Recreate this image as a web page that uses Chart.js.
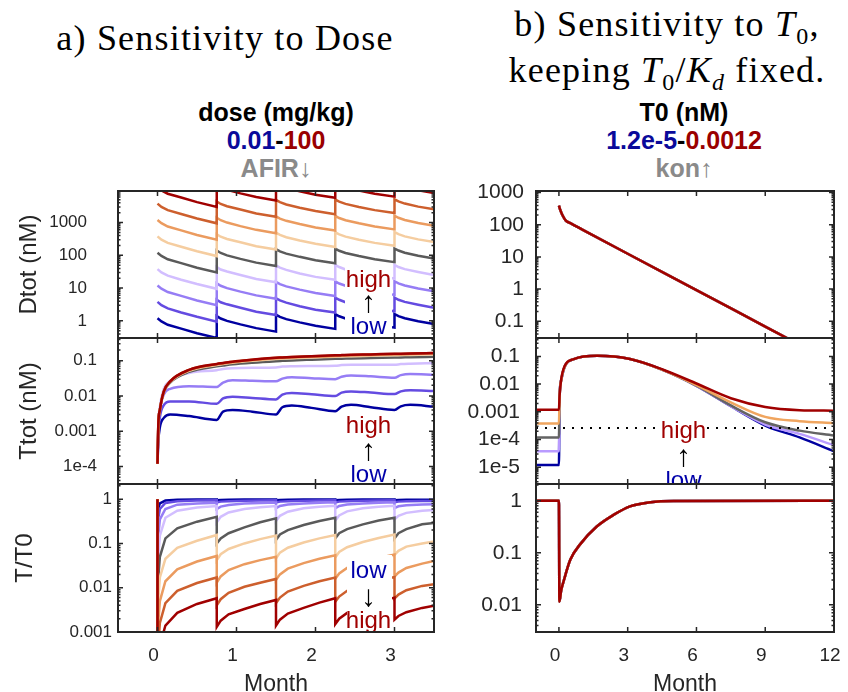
<!DOCTYPE html>
<html>
<head>
<meta charset="utf-8">
<script src="https://cdn.jsdelivr.net/npm/chart.js@4.4.1/dist/chart.umd.min.js"></script>
<style>
  html, body { margin: 0; padding: 0; background: #fff; overflow: hidden; }
  #wrap { position: relative; width: 848px; height: 692px; overflow: hidden; }
  canvas { position: absolute; }
  .t { position: absolute; transform: translate(-50%, -50%); line-height: 1; white-space: nowrap; }
  .serif { font-family: "Liberation Serif", "Times New Roman", serif; font-size: 36px; letter-spacing: 1.2px; color: #000; }
  .hd { font-family: "Liberation Sans", Arial, sans-serif; font-weight: bold; font-size: 25px; }
  .thin { font-weight: normal; }
</style>
</head>
<body>
<div id="wrap">
  <div class="t serif" style="left:225px;top:38px">a) Sensitivity to Dose</div>
  <div class="t serif" style="left:667px;top:27px">b) Sensitivity to <i>T</i><sub style="font-size:24px;font-style:normal">0</sub>,</div>
  <div class="t serif" style="left:667px;top:73px">keeping <i>T</i><sub style="font-size:24px">0</sub>/<i>K<sub style="font-size:24px">d</sub></i> fixed.</div>

  <div class="t hd" style="left:276px;top:112px;color:#000">dose (mg/kg)</div>
  <div class="t hd" style="left:276px;top:140px"><span style="color:#0a0a9a">0.01</span><span style="color:#000">-</span><span style="color:#9a0000">100</span></div>
  <div class="t hd" style="left:276px;top:168px;color:#8a8a8a">AFIR<span class="thin">↓</span></div>

  <div class="t hd" style="left:684px;top:112px;color:#000">T0 (nM)</div>
  <div class="t hd" style="left:684px;top:140px"><span style="color:#0a0a9a">1.2e-5</span><span style="color:#000">-</span><span style="color:#9a0000">0.0012</span></div>
  <div class="t hd" style="left:684px;top:168px;color:#8a8a8a">kon<span class="thin">↑</span></div>
</div>

<script>
// ---- colours, low -> high
const doseColors = ['rgb(0,0,160)', 'rgb(100,75,225)', 'rgb(150,125,245)', 'rgb(210,190,255)', 'rgb(90,90,90)',
                    'rgb(245,205,160)', 'rgb(235,155,95)', 'rgb(205,95,45)', 'rgb(160,0,0)'];
const t0Colors = ['rgb(0,0,160)', 'rgb(185,155,255)', 'rgb(100,100,100)', 'rgb(240,165,95)', 'rgb(160,0,0)'];

// ---- axis ticks
const monthTicksLeft = [0, 1, 2, 3];
const monthTicksRight = [0, 3, 6, 9, 12];
const dtotTicksL = [1, 10, 100, 1000];
const dtotLabelsL = ['1', '10', '100', '1000'];
const ttotTicksL = [1e-4, 0.001, 0.01, 0.1];
const ttotLabelsL = ['1e-4', '0.001', '0.01', '0.1'];
const relTicksL = [0.001, 0.01, 0.1, 1];
const relLabelsL = ['0.001', '0.01', '0.1', '1'];
const dtotTicksR = [0.1, 1, 10, 100, 1000];
const dtotLabelsR = ['0.1', '1', '10', '100', '1000'];
const ttotTicksR = [1e-5, 1e-4, 0.001, 0.01, 0.1];
const ttotLabelsR = ['1e-5', '1e-4', '0.001', '0.01', '0.1'];
const relTicksR = [0.01, 0.1, 1];
const relLabelsR = ['0.01', '0.1', '1'];

// ---- a) dose sensitivity, Dtot (nM), 9 doses 0.01..100 mg/kg
const tDose = [0, 0.05, 0.13, 0.3, 0.5, 0.75, 0.75, 0.8, 0.88, 1.05, 1.25, 1.5, 1.5, 1.55, 1.63, 1.8, 2.0, 2.25,
               2.25, 2.3, 2.38, 2.55, 2.75, 3.0, 3.0, 3.05, 3.13, 3.3, 3.5];
const dtot0 = [1.2, 0.96, 0.76, 0.58, 0.42, 0.30, 1.4, 1.18, 1.0, 0.78, 0.6, 0.47, 1.55, 1.32, 1.13, 0.9, 0.71, 0.57,
               1.6, 1.38, 1.18, 0.95, 0.76, 0.62, 1.62, 1.4, 1.2, 0.97, 0.8];
const dtot1 = [3.8, 3.0, 2.4, 1.8, 1.33, 0.95, 4.4, 3.7, 3.2, 2.5, 1.9, 1.5, 4.9, 4.2, 3.6, 2.8, 2.2, 1.8,
               5.1, 4.4, 3.7, 3.0, 2.4, 1.96, 5.1, 4.4, 3.8, 3.1, 2.5];
const dtot2 = [12, 9.6, 7.6, 5.8, 4.2, 3.0, 14, 11.8, 10, 7.8, 6.0, 4.7, 15.5, 13.2, 11.3, 9.0, 7.1, 5.7,
               16, 13.8, 11.8, 9.5, 7.6, 6.2, 16.2, 14, 12, 9.7, 8.0];
const dtot3 = [38, 30, 24, 18, 13.3, 9.5, 44, 37, 32, 25, 19, 15, 49, 42, 36, 28, 22, 18,
               51, 44, 37, 30, 24, 19.6, 51, 44, 38, 31, 25];
const dtot4 = [120, 96, 76, 58, 42, 30, 140, 118, 100, 78, 60, 47, 155, 132, 113, 90, 71, 57,
               160, 138, 118, 95, 76, 62, 162, 140, 120, 97, 80];
const dtot5 = [380, 300, 240, 183, 133, 95, 440, 370, 316, 250, 190, 150, 490, 420, 357, 285, 225, 180,
               505, 436, 373, 300, 240, 196, 512, 442, 380, 307, 253];
const dtot6 = [1200, 960, 760, 580, 420, 300, 1400, 1180, 1000, 780, 600, 470, 1550, 1320, 1130, 900, 710, 570,
               1600, 1380, 1180, 950, 760, 620, 1620, 1400, 1200, 970, 800];
const dtot7 = [3800, 3000, 2400, 1830, 1330, 950, 4400, 3700, 3160, 2500, 1900, 1500, 4900, 4200, 3570, 2850, 2250, 1800,
               5050, 4360, 3730, 3000, 2400, 1960, 5120, 4420, 3800, 3070, 2530];
const dtot8 = [12000, 9600, 7600, 5800, 4200, 3000, 14000, 11800, 10000, 7800, 6000, 4700, 15500, 13200, 11300, 9000, 7100, 5700,
               16000, 13800, 11800, 9500, 7600, 6200, 16200, 14000, 12000, 9700, 8000];

// ---- a) Ttot (nM)
const tTot = [0, 0.01, 0.03, 0.08, 0.16, 0.4, 0.75, 0.83, 0.95, 1.2, 1.5, 1.58, 1.7, 1.95, 2.25,
              2.33, 2.45, 2.7, 3.0, 3.08, 3.2, 3.5];
const ttot0 = [1.2e-4, 5e-4, 1.3e-3, 2.4e-3, 3.0e-3, 2.7e-3, 2.1e-3, 3.6e-3, 4.0e-3, 3.6e-3, 3.0e-3, 4.8e-3, 5.4e-3, 4.6e-3, 3.7e-3,
               5.0e-3, 5.6e-3, 4.8e-3, 4.0e-3, 5.1e-3, 5.6e-3, 5.0e-3];
const ttot1 = [1.2e-4, 8e-4, 2.5e-3, 5.5e-3, 7.0e-3, 7.0e-3, 6.0e-3, 8.5e-3, 9.5e-3, 8.8e-3, 8.0e-3, 0.011, 0.0122, 0.0112, 0.0100,
               0.0125, 0.0135, 0.0125, 0.0113, 0.0135, 0.0145, 0.0138];
const ttot2 = [1.2e-4, 1.2e-3, 4e-3, 0.011, 0.016, 0.019, 0.018, 0.024, 0.028, 0.027, 0.026, 0.031, 0.034, 0.032, 0.030,
               0.035, 0.038, 0.036, 0.033, 0.039, 0.042, 0.040];
const ttot3 = [1.2e-4, 1.5e-3, 5e-3, 0.016, 0.027, 0.045, 0.054, 0.058, 0.061, 0.063, 0.064, 0.068, 0.070, 0.071, 0.072,
               0.075, 0.077, 0.077, 0.077, 0.080, 0.082, 0.085];
const ttot4 = [1.2e-4, 1.5e-3, 4e-3, 0.013, 0.024, 0.048, 0.069, 0.073, 0.079, 0.088, 0.097, 0.099, 0.102, 0.107, 0.113,
               0.114, 0.116, 0.119, 0.123, 0.124, 0.125, 0.13];
const ttot5 = [1.2e-4, 1.5e-3, 4e-3, 0.0133, 0.025, 0.052, 0.076, 0.080, 0.087, 0.099, 0.112, 0.114, 0.117, 0.123, 0.130,
               0.132, 0.134, 0.138, 0.143, 0.144, 0.146, 0.151];
const ttot6 = [1.2e-4, 1.5e-3, 4e-3, 0.0135, 0.026, 0.054, 0.079, 0.084, 0.091, 0.104, 0.118, 0.120, 0.124, 0.130, 0.137,
               0.139, 0.142, 0.146, 0.152, 0.153, 0.155, 0.161];
const ttot7 = [1.2e-4, 1.5e-3, 4e-3, 0.0135, 0.026, 0.055, 0.080, 0.085, 0.093, 0.106, 0.121, 0.123, 0.127, 0.133, 0.140,
               0.142, 0.145, 0.150, 0.155, 0.156, 0.158, 0.164];
const ttot8 = [1.2e-4, 1.5e-3, 4e-3, 0.0135, 0.026, 0.055, 0.081, 0.086, 0.094, 0.107, 0.122, 0.124, 0.128, 0.134, 0.142,
               0.144, 0.147, 0.151, 0.157, 0.158, 0.160, 0.166];

// ---- a) T/T0
const tRel = [0, 0, 0.03, 0.1, 0.25, 0.5, 0.75, 0.75, 0.8, 0.9, 1.1, 1.3, 1.5, 1.5, 1.55, 1.65, 1.85, 2.05, 2.25,
              2.25, 2.3, 2.4, 2.6, 2.8, 3.0, 3.0, 3.05, 3.15, 3.35, 3.5];
const rel0 = [1, 0.55, 0.8, 0.93, 0.97, 0.98, 0.98, 0.94, 0.96, 0.97, 0.98, 0.98, 0.98, 0.94, 0.96, 0.97, 0.98, 0.98, 0.98,
              0.94, 0.96, 0.97, 0.98, 0.98, 0.98, 0.94, 0.96, 0.97, 0.97, 0.97];
const rel1 = [1, 0.3, 0.6, 0.82, 0.9, 0.93, 0.94, 0.84, 0.88, 0.9, 0.92, 0.93, 0.94, 0.84, 0.88, 0.9, 0.92, 0.93, 0.94,
              0.84, 0.88, 0.9, 0.92, 0.93, 0.94, 0.85, 0.88, 0.9, 0.91, 0.91];
const rel2 = [1, 0.1, 0.35, 0.6, 0.75, 0.8, 0.83, 0.6, 0.68, 0.74, 0.8, 0.82, 0.84, 0.62, 0.7, 0.76, 0.8, 0.83, 0.85,
              0.62, 0.7, 0.76, 0.8, 0.83, 0.85, 0.63, 0.69, 0.73, 0.76, 0.77];
const rel3 = [1, 0.03, 0.15, 0.38, 0.55, 0.65, 0.70, 0.30, 0.40, 0.50, 0.60, 0.66, 0.70, 0.32, 0.42, 0.52, 0.62, 0.67, 0.71,
              0.33, 0.43, 0.53, 0.62, 0.67, 0.71, 0.35, 0.42, 0.49, 0.55, 0.57];
const rel4 = [1, 0.01, 0.05, 0.13, 0.22, 0.31, 0.40, 0.10, 0.13, 0.17, 0.23, 0.30, 0.37, 0.12, 0.16, 0.20, 0.26, 0.32, 0.38,
              0.13, 0.17, 0.21, 0.27, 0.33, 0.38, 0.13, 0.17, 0.21, 0.27, 0.29];
const rel5 = [1, 0.003, 0.017, 0.045, 0.08, 0.115, 0.155, 0.042, 0.057, 0.075, 0.10, 0.125, 0.15, 0.046, 0.062, 0.08, 0.105, 0.13, 0.155,
              0.048, 0.064, 0.082, 0.108, 0.133, 0.158, 0.055, 0.068, 0.085, 0.10, 0.11];
const rel6 = [1, 0.001, 0.005, 0.014, 0.026, 0.039, 0.052, 0.013, 0.018, 0.025, 0.034, 0.042, 0.05, 0.015, 0.02, 0.027, 0.036, 0.045, 0.054,
              0.016, 0.021, 0.028, 0.037, 0.047, 0.056, 0.018, 0.022, 0.028, 0.035, 0.04];
const rel7 = [1, 3e-4, 1.6e-3, 4.5e-3, 8.5e-3, 0.0128, 0.017, 0.004, 0.0055, 0.0077, 0.0105, 0.013, 0.0158, 0.0045, 0.006, 0.0082, 0.011, 0.014, 0.017,
              0.0048, 0.0063, 0.0085, 0.0115, 0.0145, 0.0175, 0.0057, 0.007, 0.0088, 0.011, 0.012];
const rel8 = [1, 1e-4, 5e-4, 1.4e-3, 2.7e-3, 4.3e-3, 5.8e-3, 0.0013, 0.0018, 0.0025, 0.0033, 0.0043, 0.0053, 0.0014, 0.0019, 0.0026, 0.0035, 0.0046, 0.0058,
              0.0015, 0.002, 0.0027, 0.0037, 0.0048, 0.006, 0.0019, 0.0023, 0.0028, 0.0035, 0.0039];

// ---- b) T0 sensitivity (all five T0 values overlap for Dtot and T/T0)
const tDtotR = [0, 0.05, 0.15, 0.3, 0.5, 1, 3, 6, 9, 12];
const dtotR = [390, 300, 200, 135, 112, 72, 12.5, 0.93, 0.068, 0.005];

const tTotR = [-1, 0, 0.03, 0.1, 0.25, 0.65, 1.67, 3.1, 4.55, 6.0, 7.5, 9.0, 10.5, 12];
const ttotR0 = [1.2e-5, 1.2e-5, 3.4e-3, 0.014, 0.042, 0.08, 0.105, 0.08, 0.032, 0.0087, 0.0016, 3.2e-4, 1.2e-4, 3.8e-5];
const ttotR1 = [3.8e-5, 3.8e-5, 3.4e-3, 0.014, 0.042, 0.08, 0.105, 0.08, 0.032, 0.0087, 0.0016, 3.5e-4, 1.6e-4, 6.3e-5];
const ttotR2 = [1.2e-4, 1.2e-4, 3.5e-3, 0.014, 0.042, 0.08, 0.105, 0.08, 0.032, 0.0088, 0.0017, 4.2e-4, 2.1e-4, 1.4e-4];
const ttotR3 = [3.8e-4, 3.8e-4, 3.6e-3, 0.014, 0.043, 0.08, 0.105, 0.08, 0.032, 0.0092, 0.0022, 6.6e-4, 4.6e-4, 3.9e-4];
const ttotR4 = [1.2e-3, 1.2e-3, 4e-3, 0.015, 0.045, 0.08, 0.105, 0.08, 0.033, 0.0105, 0.0031, 0.0015, 0.00115, 0.0011];
const thresholdR = [2.6e-4];

const tRelR = [-1, 0, 0.02, 0.1, 0.22, 0.5, 0.95, 1.65, 2.4, 3.1, 4.0, 5.0, 12];
const relR = [1, 1, 0.0115, 0.019, 0.030, 0.074, 0.15, 0.32, 0.54, 0.78, 0.94, 0.99, 1];

// ---- frame, inward ticks and high/low notes
const INK = '#262626';
const SANS = '"Liberation Sans", Arial, "DejaVu Sans", sans-serif';

const framePlugin = {
  id: 'frame',
  afterDatasetsDraw(chart, args, opts) {
    const { ctx, chartArea: a } = chart;
    const x = chart.scales.x, y = chart.scales.y;

    if (opts.box) {
      ctx.save();
      ctx.beginPath();
      ctx.rect(a.left, a.top, a.right - a.left, a.bottom - a.top);
      ctx.clip();
      ctx.fillStyle = '#fff';
      ctx.fillRect(a.left + opts.box[0], a.top + opts.box[1], opts.box[2], opts.box[3]);
      ctx.textAlign = 'center';
      ctx.textBaseline = 'middle';
      opts.items.forEach((n) => {
        ctx.font = n.size + 'px ' + SANS;
        ctx.fillStyle = n.color;
        ctx.fillText(n.text, a.left + n.dx, a.top + n.dy);
      });
      ctx.restore();
    }

    ctx.save();
    ctx.strokeStyle = INK;
    ctx.lineWidth = 1.5;
    ctx.beginPath();
    x.ticks.forEach((t) => {
      const px = x.getPixelForValue(t.value);
      ctx.moveTo(px, a.top); ctx.lineTo(px, a.top + 5);
      ctx.moveTo(px, a.bottom); ctx.lineTo(px, a.bottom - 5);
    });
    const lo = Math.floor(Math.log10(y.min)), hi = Math.ceil(Math.log10(y.max));
    for (let e = lo; e <= hi; e++) {
      for (let m = 1; m <= 9; m++) {
        const v = m * Math.pow(10, e);
        if (v < y.min || v > y.max) continue;
        const py = y.getPixelForValue(v);
        const len = m === 1 ? 5 : 2.5;
        ctx.moveTo(a.left, py); ctx.lineTo(a.left + len, py);
        ctx.moveTo(a.right, py); ctx.lineTo(a.right - len, py);
      }
    }
    ctx.stroke();
    ctx.lineWidth = 2;
    ctx.strokeRect(a.left, a.top, a.right - a.left, a.bottom - a.top);
    ctx.restore();
  }
};

const columns = {
  L: { left: 0, width: 440, yW: 118, padR: 6, xMin: -0.5, xMax: 3.5, xTicks: monthTicksLeft, tickSize: 17 },
  R: { left: 440, width: 408, yW: 96, padR: 14, xMin: -1, xMax: 12, xTicks: monthTicksRight, tickSize: 21 }
};
const rows = [{ top: 191, bottom: 338 }, { top: 338, bottom: 484 }, { top: 484, bottom: 632 }];

function lines(xs, series, colors, smooth) {
  return series.map((ys, i) => ({
    data: xs.map((x, j) => ({ x: x, y: ys[j] })),
    borderColor: colors[i],
    borderWidth: 2.5,
    pointRadius: 0,
    tension: 0,
    cubicInterpolationMode: smooth ? 'monotone' : 'default',
    fill: false,
    order: colors.length - i + 1
  }));
}

function makePanel(p) {
  const col = columns[p.col], row = rows[p.row];
  const last = p.row === 2;
  const padTop = 14;
  const canvasTop = row.top - padTop;
  const canvasH = last ? 700 - canvasTop : (row.bottom - row.top) + 2 * padTop;

  const canvas = document.createElement('canvas');
  canvas.width = col.width;
  canvas.height = canvasH;
  canvas.style.left = col.left + 'px';
  canvas.style.top = canvasTop + 'px';
  document.getElementById('wrap').appendChild(canvas);

  return new Chart(canvas, {
    type: 'line',
    data: { datasets: p.datasets },
    options: {
      responsive: false,
      animation: false,
      layout: { padding: { left: 0, right: col.padR, top: padTop, bottom: last ? 0 : padTop } },
      plugins: { legend: { display: false }, tooltip: { enabled: false }, frame: p.notes || {} },
      scales: {
        x: {
          type: 'linear',
          min: col.xMin,
          max: col.xMax,
          afterBuildTicks: (s) => { s.ticks = col.xTicks.map((v) => ({ value: v })); },
          afterFit: (s) => { s.height = last ? 68 : 0; s.paddingLeft = 0; s.paddingRight = 0; },
          grid: { display: false, drawTicks: false },
          border: { display: false },
          ticks: { display: last, autoSkip: false, maxRotation: 0, padding: 12, labelOffset: -4,
                   color: INK, font: { family: SANS, size: 19 } },
          title: { display: last, text: 'Month', color: INK, font: { family: SANS, size: 23 },
                   padding: { top: 0, bottom: 2 } }
        },
        y: {
          type: 'logarithmic',
          min: p.yMin,
          max: p.yMax,
          afterBuildTicks: (s) => { s.ticks = p.yTicks.map((v) => ({ value: v })); },
          afterFit: (s) => { s.width = col.yW; s.paddingTop = 0; s.paddingBottom = 0; },
          grid: { display: false, drawTicks: false },
          border: { display: false },
          ticks: { autoSkip: false, padding: p.tickPad, color: INK, font: { family: SANS, size: col.tickSize },
                   callback: (v, i) => p.yLabels[i] },
          title: { display: !!p.yTitle, text: p.yTitle || '', color: INK, font: { family: SANS, size: 24 },
                   padding: { top: p.titlePad || 0, bottom: 0 } }
        }
      }
    },
    plugins: [framePlugin]
  });
}

const RED = 'rgb(160,0,0)', BLUE = 'rgb(0,0,170)';

makePanel({
  col: 'L', row: 0, yMin: 0.32, yMax: 9200, yTicks: dtotTicksL, yLabels: dtotLabelsL,
  yTitle: 'Dtot (nM)', tickPad: 31, titlePad: 15,
  datasets: lines(tDose, [dtot0, dtot1, dtot2, dtot3, dtot4, dtot5, dtot6, dtot7, dtot8], doseColors, false),
  notes: { box: [227, 75, 47, 72], items: [
    { text: 'high', color: RED, size: 24, dx: 250.5, dy: 89 },
    { text: '↑', color: '#000', size: 30, dx: 250.5, dy: 113 },
    { text: 'low', color: BLUE, size: 24, dx: 250.5, dy: 136 }] }
});

makePanel({
  col: 'L', row: 1, yMin: 3.2e-5, yMax: 0.44, yTicks: ttotTicksL, yLabels: ttotLabelsL,
  yTitle: 'Ttot (nM)', tickPad: 21, titlePad: 15,
  datasets: lines(tTot, [ttot0, ttot1, ttot2, ttot3, ttot4, ttot5, ttot6, ttot7, ttot8], doseColors, true),
  notes: { box: [227, 76, 47, 70], items: [
    { text: 'high', color: RED, size: 24, dx: 250.5, dy: 88.5 },
    { text: '↑', color: '#000', size: 30, dx: 250.5, dy: 114 },
    { text: 'low', color: BLUE, size: 24, dx: 250.5, dy: 137 }] }
});

makePanel({
  col: 'L', row: 2, yMin: 0.001, yMax: 2.2, yTicks: relTicksL, yLabels: relLabelsL,
  yTitle: 'T/T0', tickPad: 6, titlePad: 11,
  datasets: lines(tRel, [rel0, rel1, rel2, rel3, rel4, rel5, rel6, rel7, rel8], doseColors, false),
  notes: { box: [229, 71, 45, 77], items: [
    { text: 'low', color: BLUE, size: 24, dx: 250.5, dy: 87 },
    { text: '↓', color: '#000', size: 30, dx: 250.5, dy: 114 },
    { text: 'high', color: RED, size: 24, dx: 250.5, dy: 137.5 }] }
});

makePanel({
  col: 'R', row: 0, yMin: 0.03, yMax: 1120, yTicks: dtotTicksR, yLabels: dtotLabelsR, tickPad: 12,
  datasets: lines(tDtotR, [dtotR, dtotR, dtotR, dtotR, dtotR], t0Colors, true)
});

const threshold = {
  data: [{ x: -1, y: thresholdR[0] }, { x: 12, y: thresholdR[0] }],
  borderColor: '#000', borderWidth: 2, borderDash: [2, 7], pointRadius: 0, fill: false, order: 0
};
makePanel({
  col: 'R', row: 1, yMin: 2.5e-6, yMax: 0.46, yTicks: ttotTicksR, yLabels: ttotLabelsR, tickPad: 16,
  datasets: lines(tTotR, [ttotR0, ttotR1, ttotR2, ttotR3, ttotR4], t0Colors, true).concat([threshold]),
  notes: { box: [124, 84, 47, 62], items: [
    { text: 'high', color: RED, size: 24, dx: 147.5, dy: 93 },
    { text: '↑', color: '#000', size: 30, dx: 147.5, dy: 120 },
    { text: 'low', color: BLUE, size: 24, dx: 147.5, dy: 143 }] }
});

makePanel({
  col: 'R', row: 2, yMin: 0.003, yMax: 2.1, yTicks: relTicksR, yLabels: relLabelsR, tickPad: 14,
  datasets: lines(tRelR, [relR, relR, relR, relR, relR], t0Colors, true)
});
</script>
</body>
</html>
